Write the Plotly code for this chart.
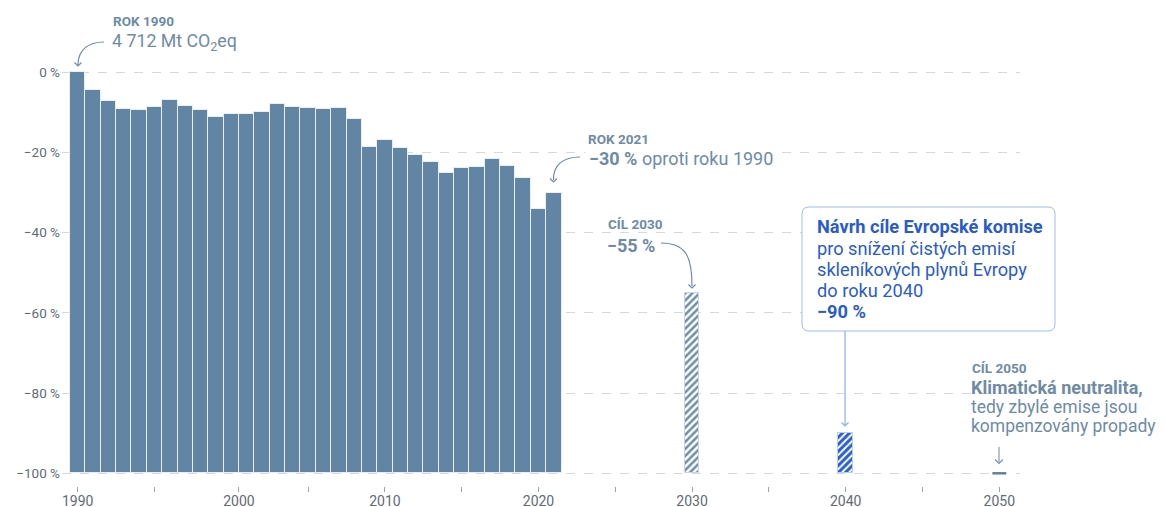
import plotly.graph_objects as go

# ---------------- data ----------------
years = list(range(1990, 2022))
change_pct = [0, -4.5, -7.1, -9.1, -9.3, -8.7, -7.0, -8.4, -9.5, -11.2,
              -10.3, -10.3, -10.0, -8.0, -8.7, -9.0, -9.2, -8.8, -11.6, -18.6,
              -16.8, -19.0, -20.5, -22.3, -25.0, -23.8, -23.5, -21.5, -23.3, -26.4,
              -34.0, -30.0]
target_years = [2030, 2040, 2050]
target_pct = [-55, -90, -100]

y_tickvals = [0, -20, -40, -60, -80, -100]
y_ticktext = ["0 %", "−20 %", "−40 %", "−60 %", "−80 %", "−100 %"]
x_tickvals = [1990, 1995, 2000.5, 2005, 2010, 2015, 2020, 2025, 2030, 2035, 2040, 2045, 2050]
x_ticktext = ["1990", " ", "2000", " ", "2010", " ", "2020", " ", "2030", " ", "2040", " ", "2050"]

BASE = -100

# ---------------- geometry (screen pixels; page body adds an 8 px offset) ----------------
OFF = 8
W, H = 1165, 507
L_S, R_S = 62, 1020          # plot area left/right on screen
T_S, B_S = 68, 486           # plot area top/bottom on screen
PW, PH = R_S - L_S, B_S - T_S
KX = 15.36     # px per year
KY = 4.01      # px per percent
X1990_S = 77.7
Y0_S = 72.3

x0 = 1990 - (X1990_S - L_S) / KX
x1 = x0 + PW / KX
y_top = (Y0_S - T_S) / KY
y_bot = y_top - PH / KY


def fx(p):
    return (p - L_S) / PW


def fy(p):
    return (B_S - p) / PH


SLATE = "#6285a3"
TXT = "#6e8ba6"
BLUE = "#2a5cc9"
FONT = "Roboto"

fig = go.Figure()

# historical bars
fig.add_trace(go.Bar(
    x=years, y=[v - BASE for v in change_pct], base=BASE, width=1.0,
    marker=dict(color=SLATE, line=dict(color="#e8eef4", width=1)),
    hoverinfo="skip", showlegend=False))

# 2030 target (hatched slate)
fig.add_trace(go.Bar(
    x=[target_years[0]], y=[target_pct[0] - BASE], base=BASE, width=0.95,
    marker=dict(color="white", line=dict(color="#c9d5e0", width=1),
                pattern=dict(shape="/", fgcolor="#6f8ea9", bgcolor="white",
                             size=5, solidity=0.5, fillmode="replace")),
    hoverinfo="skip", showlegend=False))

# 2040 proposal (hatched blue)
fig.add_trace(go.Bar(
    x=[target_years[1]], y=[target_pct[1] - BASE], base=BASE, width=0.95,
    marker=dict(color="white", line=dict(color="#b9cdf2", width=1),
                pattern=dict(shape="/", fgcolor="#2b5fcc", bgcolor="white",
                             size=5, solidity=0.6, fillmode="replace")),
    hoverinfo="skip", showlegend=False))

# 2050 neutrality (flat mark at the target level)
fig.add_trace(go.Scatter(
    x=[target_years[2] - 0.45, target_years[2] + 0.45],
    y=[target_pct[2], target_pct[2]], mode="lines",
    line=dict(color="#5f80a0", width=2.5), hoverinfo="skip", showlegend=False))

shapes = []
annotations = []


def chevron(xp, yp, color, size=4.0, w=1.2):
    path = (f"M {fx(xp - size)},{fy(yp - size)} L {fx(xp)},{fy(yp)} "
            f"L {fx(xp + size)},{fy(yp - size)}")
    shapes.append(dict(type="path", xref="paper", yref="paper", path=path,
                       line=dict(color=color, width=w)))


def curve(pts, color, w=1.2):
    (a, b), (c, d), (e, f), (g, h) = pts
    path = (f"M {fx(a)},{fy(b)} C {fx(c)},{fy(d)} {fx(e)},{fy(f)} {fx(g)},{fy(h)}")
    shapes.append(dict(type="path", xref="paper", yref="paper", path=path,
                       line=dict(color=color, width=w)))


def text(xp, yp, s, size, color=TXT, bg=None, pad=0):
    d = dict(x=fx(xp), y=fy(yp), xref="paper", yref="paper", text=s,
             showarrow=False, xanchor="left", yanchor="middle",
             font=dict(family=FONT, size=size, color=color))
    if bg:
        d.update(bgcolor=bg, borderpad=pad)
    annotations.append(d)


# 1990 annotation
text(111, 21, "<b>ROK 1990</b>", 13.5)
text(110, 42, "4 712 Mt CO<sub>2</sub>eq", 17.8)
curve([(104, 42), (88, 42), (78, 50), (78, 65)], TXT)
chevron(78, 66, TXT, 3.5)

# 2021 annotation
text(586, 139, "<b>ROK 2021</b>", 13.5)
text(585, 158, "<b>−30 %</b> oproti roku 1990", 18, bg="white", pad=3)
curve([(580, 157), (563, 157), (553, 165), (553.5, 180)], TXT)
chevron(553.5, 182, TXT, 3.5)

# 2030 annotation
text(606, 224, "<b>CÍL 2030</b>", 13.5)
text(605, 245, "<b>−55 %</b>", 18)
curve([(661, 243), (685, 243), (692, 255), (692, 286)], TXT)
chevron(692, 288, TXT, 3.5)

# 2040 box
bx0, by0, bx1, by1, r = 802, 207, 1055, 331, 7
box = (f"M {fx(bx0 + r)},{fy(by0)} L {fx(bx1 - r)},{fy(by0)} "
       f"Q {fx(bx1)},{fy(by0)} {fx(bx1)},{fy(by0 + r)} "
       f"L {fx(bx1)},{fy(by1 - r)} Q {fx(bx1)},{fy(by1)} {fx(bx1 - r)},{fy(by1)} "
       f"L {fx(bx0 + r)},{fy(by1)} Q {fx(bx0)},{fy(by1)} {fx(bx0)},{fy(by1 - r)} "
       f"L {fx(bx0)},{fy(by0 + r)} Q {fx(bx0)},{fy(by0)} {fx(bx0 + r)},{fy(by0)} Z")
shapes.append(dict(type="path", xref="paper", yref="paper", path=box,
                   fillcolor="white", line=dict(color="#9dbdf3", width=1),
                   layer="above"))
box_lines = ["<b>Návrh cíle Evropské komise</b>", "pro snížení čistých emisí",
             "skleníkových plynů Evropy", "do roku 2040", "<b>−90 %</b>"]
for i, s in enumerate(box_lines):
    text(815, 226.7 + i * 21.3, s, 18.2, color=BLUE)
shapes.append(dict(type="line", xref="paper", yref="paper",
                   x0=fx(845), x1=fx(845), y0=fy(331), y1=fy(425),
                   line=dict(color="#8aaef0", width=1.2)))
chevron(845, 426, "#8aaef0", 3.5)

# 2050 annotation
shapes.append(dict(type="rect", xref="paper", yref="paper",
                   x0=fx(955), x1=fx(1020), y0=fy(377), y1=fy(436),
                   fillcolor="white", line=dict(width=0), layer="below"))
text(970, 368, "<b>CÍL 2050</b>", 13.5)
text(969, 387.5, "<b>Klimatická neutralita,</b>", 18)
text(969, 406.5, "tedy zbylé emise jsou", 17.5)
text(969, 425.5, "kompenzovány propady", 17.5)
shapes.append(dict(type="line", xref="paper", yref="paper",
                   x0=fx(999), x1=fx(999), y0=fy(447), y1=fy(463),
                   line=dict(color="#7b94aa", width=1.1)))
chevron(999, 463.5, "#7b94aa", 4)

fig.update_layout(
    width=W, height=H,
    margin=dict(l=L_S - OFF, r=W - (R_S - OFF), t=T_S - OFF, b=H - (B_S - OFF),
                pad=0, autoexpand=False),
    paper_bgcolor="white", plot_bgcolor="white",
    barmode="overlay", bargap=0,
    font=dict(family=FONT, color="#5f6b77"),
    shapes=shapes, annotations=annotations,
    xaxis=dict(range=[x0, x1], tickvals=x_tickvals, ticktext=x_ticktext,
               ticks="outside", ticklen=5, tickwidth=1, tickcolor="#9aa4ae",
               showgrid=False, zeroline=False, showline=False, automargin=False,
               ticklabelstandoff=-3,
               tickfont=dict(family=FONT, size=14, color="#5f6b77")),
    yaxis=dict(range=[y_bot, y_top], tickvals=y_tickvals, ticktext=y_ticktext,
               showgrid=True, gridcolor="#d3d9e1", gridwidth=1, griddash="dash",
               zeroline=False, showline=False, ticks="", automargin=False,
               ticklabelstandoff=1,
               tickfont=dict(family=FONT, size=13.5, color="#5f6b77")),
)

fig.write_html("out.html")
